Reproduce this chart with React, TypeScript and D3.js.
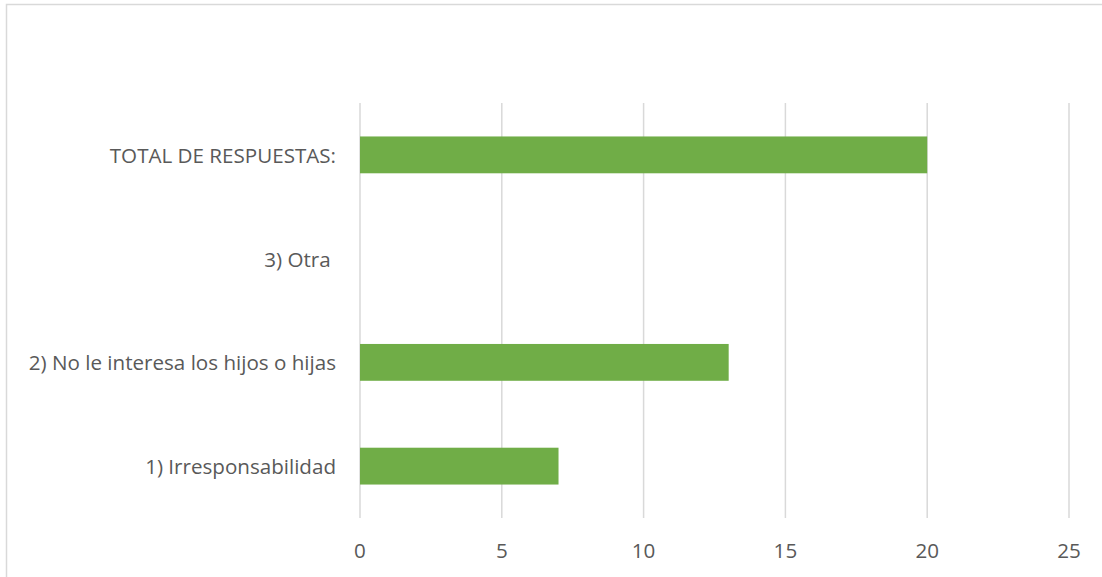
import React, { useEffect, useRef } from "react";
import * as d3 from "d3";

const categories = [
  "TOTAL DE RESPUESTAS:",
  "3) Otra ",
  "2) No le interesa los hijos o hijas",
  "1) Irresponsabilidad",
];
const values = [20, 0, 13, 7];
const xTicks = [0, 5, 10, 15, 20, 25];

const W = 1102;
const H = 577;

export default function App() {
  const ref = useRef<SVGSVGElement | null>(null);

  useEffect(() => {
    const svg = d3.select(ref.current);
    svg.selectAll("*").remove();

    const left = 360, right = 1069, top = 103, bottom = 518;
    const font = "'Open Sans', sans-serif";
    const textColor = "#595959";
    const fs = 20.6;

    svg.append("rect")
      .attr("x", 6.5).attr("y", 4.5)
      .attr("width", 1200).attr("height", 700)
      .attr("fill", "#fff").attr("stroke", "#d9d9d9").attr("stroke-width", 1.5);

    const x = d3.scaleLinear().domain([0, 25]).range([left, right]);
    const y = d3.scaleBand<string>().domain(categories).range([top, bottom]).paddingInner(0.645).paddingOuter(0.3225);

    svg.append("g").selectAll("line").data(xTicks).join("line")
      .attr("x1", d => x(d)).attr("x2", d => x(d))
      .attr("y1", top).attr("y2", bottom)
      .attr("stroke", "#d9d9d9").attr("stroke-width", 1.5);

    svg.append("g").selectAll("rect").data(values).join("rect")
      .attr("x", x(0))
      .attr("y", (_, i) => y(categories[i])!)
      .attr("width", d => x(d) - x(0))
      .attr("height", y.bandwidth())
      .attr("fill", "#70ad47");

    svg.append("g").selectAll("text").data(xTicks).join("text")
      .attr("x", d => x(d)).attr("y", 550)
      .attr("text-anchor", "middle").attr("dominant-baseline", "central")
      .attr("font-family", font).attr("font-size", fs).attr("fill", textColor)
      .text(d => String(d));

    svg.append("g").selectAll("text").data(categories).join("text")
      .attr("x", 336).attr("y", d => y(d)! + y.bandwidth() / 2)
      .attr("text-anchor", "end").attr("dominant-baseline", "central")
      .attr("font-family", font).attr("font-size", fs).attr("fill", textColor)
      .attr("xml:space", "preserve")
      .style("white-space", "pre")
      .text(d => d);
  }, []);

  return (
    <svg ref={ref} width={W} height={H} style={{ position: "absolute", left: 0, top: 0, background: "#fff" }} />
  );
}
